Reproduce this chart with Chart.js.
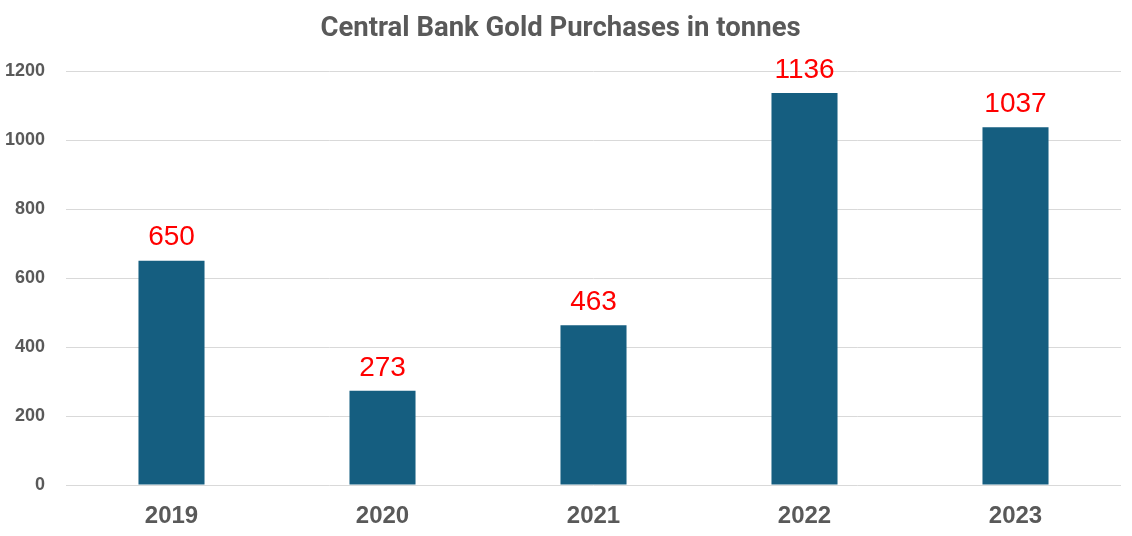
<!DOCTYPE html>
<html>
<head>
<meta charset="utf-8">
<script src="https://cdn.jsdelivr.net/npm/chart.js@4"></script>
<style>
  html, body { margin: 0; padding: 0; background: #ffffff; }
  #wrap { width: 1132px; height: 536px; }
</style>
</head>
<body>
<div id="wrap"><canvas id="myChart"></canvas></div>
<script>
const years = ["2019", "2020", "2021", "2022", "2023"];
const tonnes = [650, 273, 463, 1136, 1037];
const yTicks = [0, 200, 400, 600, 800, 1000, 1200];

// etiquetas rojas encima de cada barra
const valueLabels = {
  id: "valueLabels",
  afterDatasetsDraw(chart) {
    const ctx = chart.ctx;
    const meta = chart.getDatasetMeta(0);
    ctx.save();
    ctx.fillStyle = "#ff0000";
    ctx.font = "28px 'Liberation Sans', Arial, sans-serif";
    ctx.textAlign = "center";
    ctx.textBaseline = "middle";
    meta.data.forEach((bar, i) => {
      ctx.fillText(String(tonnes[i]), bar.x, bar.y - 23);
    });
    ctx.restore();
  },
};

const chartContext = document.getElementById("myChart").getContext("2d");
new Chart(chartContext, {
  type: "bar",
  data: {
    labels: years,
    datasets: [
      {
        label: "Tonnes",
        data: tonnes,
        backgroundColor: "#155e80",
        categoryPercentage: 1,
        barPercentage: 0.313,
      },
    ],
  },
  options: {
    responsive: true,
    maintainAspectRatio: false,
    animation: false,
    layout: { padding: { left: 0, right: 11, top: 0, bottom: 0 } },
    plugins: {
      legend: { display: false },
      tooltip: { enabled: false },
      title: {
        display: true,
        text: "Central Bank Gold Purchases in tonnes",
        color: "#595959",
        font: { family: "Roboto, 'Liberation Sans', sans-serif", size: 27.5, weight: "bold" },
        padding: { top: 13, bottom: 25 },
      },
    },
    scales: {
      x: {
        grid: { display: false, drawTicks: false },
        border: { display: false },
        ticks: {
          color: "#595959",
          padding: 17,
          font: { family: "'Liberation Sans', Arial, sans-serif", size: 24, weight: "bold" },
        },
        afterFit(scale) { scale.height = 51; },
      },
      y: {
        min: 0,
        max: 1200,
        afterBuildTicks(scale) { scale.ticks = yTicks.map((v) => ({ value: v })); },
        grid: { color: "#d9d9d9", lineWidth: 1, drawTicks: false },
        border: { display: false },
        ticks: {
          color: "#595959",
          padding: 21,
          callback: (value) => String(value),
          font: { family: "'Liberation Sans', Arial, sans-serif", size: 18, weight: "bold" },
        },
        afterFit(scale) { scale.width = 66; },
      },
    },
  },
  plugins: [valueLabels],
});
</script>
</body>
</html>
